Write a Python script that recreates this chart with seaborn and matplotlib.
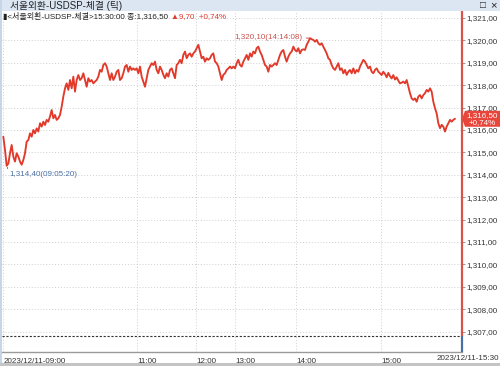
import numpy as np
import pandas as pd
import matplotlib
matplotlib.use("Agg")
import matplotlib.pyplot as plt
import seaborn as sns
from matplotlib import font_manager as fm
from matplotlib.patches import Rectangle, Polygon
from matplotlib.ticker import FuncFormatter

# ---------------- data ----------------
prices_0900 = [1315.70, 1315.11, 1314.40, 1314.50, 1314.96, 1315.33, 1314.81, 1314.59, 1314.96, 1314.81,
               1314.59, 1314.45, 1314.66, 1314.96, 1315.48, 1315.55, 1315.85, 1315.70, 1316.00, 1315.85,
               1316.07, 1315.93, 1316.30, 1316.15, 1316.37, 1316.22, 1316.45, 1316.37, 1316.60, 1316.89,
               1316.52, 1316.67, 1316.45, 1316.52, 1316.67, 1317.04, 1317.49, 1317.86, 1318.08, 1317.79,
               1318.23, 1317.86, 1318.38, 1317.71, 1318.23, 1318.45, 1318.23]
prices_1030 = [1318.31, 1318.53, 1318.23, 1317.93, 1318.31, 1318.16, 1318.23, 1318.08, 1318.16, 1318.23,
               1318.38, 1318.68, 1318.60, 1318.90, 1318.98, 1318.83, 1318.53, 1318.23, 1318.53, 1318.23,
               1318.38, 1318.60, 1318.68, 1318.23, 1318.31, 1318.53, 1318.83, 1318.90, 1318.60, 1318.83,
               1318.68, 1318.75, 1318.68, 1318.75, 1318.53, 1318.83, 1318.38, 1318.16, 1317.93, 1318.31,
               1318.68, 1318.83, 1318.98, 1318.90, 1319.05]
prices_1130 = [1318.68, 1318.53, 1318.83, 1318.68, 1318.46, 1318.31, 1318.53, 1318.38, 1318.68, 1318.75,
               1318.53, 1318.31, 1318.90, 1318.98, 1319.13, 1318.98, 1319.35, 1319.50, 1319.20, 1319.35,
               1319.42, 1319.27, 1319.42, 1319.50, 1319.65, 1319.80, 1319.50, 1319.20, 1319.27, 1319.05,
               1319.20, 1319.13, 1319.20, 1319.35, 1319.42, 1319.05, 1318.98, 1318.83, 1318.53, 1318.23,
               1318.46, 1318.53, 1318.68, 1318.75, 1318.83]
prices_1300 = [1318.75, 1318.83, 1318.75, 1318.98, 1319.13, 1318.90, 1318.83, 1319.05, 1319.20, 1319.35,
               1319.13, 1319.42, 1319.27, 1319.50, 1319.42, 1319.65, 1319.72, 1319.50, 1319.35, 1319.13,
               1318.90, 1318.83, 1318.60, 1318.90, 1318.83, 1318.90, 1318.98, 1318.90, 1319.13, 1319.35,
               1319.50, 1319.57, 1319.27, 1319.05, 1319.27, 1319.42, 1319.50, 1319.72, 1319.57, 1319.50,
               1319.65, 1319.42, 1319.57, 1319.60, 1319.57]
prices_1400 = [1319.80, 1319.94, 1320.10, 1320.05, 1320.02, 1319.94, 1320.02, 1319.87, 1319.80, 1319.87,
               1319.72, 1319.57, 1319.42, 1319.20, 1319.13, 1318.90, 1318.75, 1318.68, 1318.83, 1318.98,
               1318.68, 1318.75, 1318.53, 1318.68, 1318.46, 1318.60, 1318.68, 1318.53, 1318.75, 1318.53,
               1318.68, 1318.60, 1318.83, 1318.98, 1319.13, 1319.05, 1318.90, 1318.75, 1318.83, 1318.60,
               1318.53, 1318.68, 1318.75, 1318.60, 1318.53]
prices_1500 = [1318.45, 1318.60, 1318.50, 1318.35, 1318.55, 1318.40, 1318.30, 1318.45, 1318.25, 1318.35,
               1318.20]
prices_1510 = [1318.08, 1318.11, 1318.16, 1318.08, 1318.23, 1317.93, 1317.64, 1317.41, 1317.34, 1317.41,
               1317.26, 1317.49, 1317.56, 1317.41, 1317.56, 1317.64, 1317.79, 1317.71, 1317.86, 1317.71,
               1317.26, 1316.97, 1316.74, 1316.30, 1316.08, 1316.23, 1316.15, 1315.93, 1316.15, 1316.30,
               1316.45, 1316.37, 1316.45, 1316.50]

prev_close = 1306.80
last_price = 1316.50
change = 9.70
change_pct = 0.74
high_label = "1,320,10(14:14:08)"
low_label = "1,314,40(09:05:20)"

tick_pos = [0, 80.2, 115.6, 139, 175.6, 226.6]
tick_labels = ["2023/12/11-09:00", "11:00", "12:00", "13:00", "14:00", "15:00"]
end_label = "2023/12/11-15:30"
y_ticks = list(range(1307, 1322))

prices = prices_0900 + prices_1030 + prices_1130 + prices_1300 + prices_1400 + prices_1500 + prices_1510
df = pd.DataFrame({"seq": np.arange(len(prices)), "price": prices})

# ---------------- style ----------------
sns.set_theme(style="white")


def has(f):
    try:
        fm.findfont(fm.FontProperties(family=f), fallback_to_default=False)
        return True
    except Exception:
        return False


narrow = "Liberation Sans Narrow" if has("Liberation Sans Narrow") else "Liberation Sans"
FAM = [narrow, "Noto Sans CJK KR", "DejaVu Sans"]
plt.rcParams["font.family"] = FAM

RED = "#e2392a"
AXRED = "#d9534a"
BLUE = "#4a6fa5"
FS = 5.8

W, H = 500, 366
fig = plt.figure(figsize=(W / 100, H / 100), dpi=100)
fig.patch.set_facecolor("white")


def fx(px):
    return px / W


def fy(py):
    return 1 - py / H


ax = fig.add_axes([fx(2), fy(352), fx(462) - fx(2), fy(11) - fy(352)])
ax.set_facecolor("white")

sns.lineplot(data=df, x="seq", y="price", ax=ax, color=RED, linewidth=1.35,
             estimator=None, errorbar=None)

xmin, xmax = -0.8, 275.2
ax.set_xlim(xmin, xmax)
ax.set_ylim(1306.09, 1321.31)

# grid
ax.set_yticks(y_ticks)
ax.set_xticks(tick_pos)
ax.grid(True, linestyle=(0, (1, 2)), color="#cfcfcf", linewidth=0.7)
ax.set_xlabel("")
ax.set_ylabel("")

for s in ["left", "top", "right"]:
    ax.spines[s].set_visible(False)
ax.spines["bottom"].set_color("#9a9a9a")
ax.spines["bottom"].set_linewidth(1.0)

# right axis
ax.yaxis.tick_right()
ax.yaxis.set_major_formatter(FuncFormatter(lambda v, _: f"{v:,.2f}".replace(".", ",")))
ax.tick_params(axis="y", length=2, width=0.6, color="#888888", pad=1,
               labelsize=FS, labelcolor="#333333")
ax.tick_params(axis="x", length=3, width=0.6, color="#666666", pad=1, direction="out",
               labelsize=FS, labelcolor="#333333")
ax.set_xticklabels(tick_labels)
for lab in ax.get_xticklabels():
    lab.set_horizontalalignment("left")

ax.vlines(xmax, prev_close, 1321.31, color=AXRED, linewidth=1.6, clip_on=False, zorder=5)
ax.vlines(xmax, 1306.09, prev_close, color=BLUE, linewidth=1.6, clip_on=False, zorder=5)
ax.axhline(prev_close, color="#333333", linestyle=(0, (2, 1.5)), linewidth=0.8)

fig.text(fx(499), fy(358.5), end_label, ha="right", va="center", fontsize=FS, color="#333333")

# annotations
imax = int(np.argmax(prices))
imin = int(np.argmin(prices))
ax.annotate(high_label, xy=(imax, prices[imax]), xytext=(-7, 1), textcoords="offset pixels",
            ha="right", va="center", fontsize=FS, color="#c9534d",
            arrowprops=dict(arrowstyle="-", color="#c9534d", lw=0.7, shrinkA=0, shrinkB=1))
ax.annotate(low_label, xy=(imin, prices[imin]), xytext=(3, -9), textcoords="offset pixels",
            ha="left", va="center", fontsize=FS, color=BLUE,
            arrowprops=dict(arrowstyle="-", color=BLUE, lw=0.7, shrinkA=0, shrinkB=1,
                            connectionstyle="angle,angleA=0,angleB=90,rad=0"))

# price box
fig.canvas.draw()
disp = ax.transData.transform((xmax, last_price))
bx, by = fig.transFigure.inverted().transform(disp)
bh = 16 / H
fig.add_artist(Polygon([[bx, by], [bx + fx(3), by + bh / 2], [fx(500), by + bh / 2],
                        [fx(500), by - bh / 2], [bx + fx(3), by - bh / 2]],
                       closed=True, transform=fig.transFigure, facecolor="#e8463a",
                       edgecolor="none", zorder=6))
fig.text(fx(482), by, f"{last_price:,.2f}".replace(".", ",") + "\n" + f"+{change_pct:.2f}%".replace(".", ","),
         ha="center", va="center", fontsize=FS, color="white", linespacing=1.0, zorder=7)

# title bar
fig.add_artist(Rectangle((0, fy(11)), 1, 11 / H, transform=fig.transFigure,
                         facecolor="#dbe6f2", edgecolor="none", zorder=0))
fig.add_artist(Rectangle((0, 0), fx(2), 1, transform=fig.transFigure,
                         facecolor="#c6d6e8", edgecolor="none", zorder=0))
fig.add_artist(Rectangle((0, 0), 1, 3 / H, transform=fig.transFigure,
                         facecolor="#c4c4c4", edgecolor="none", zorder=0))
fig.text(fx(10), fy(5.5), "서울외환-USDSP-체결 (틱)", ha="left", va="center", fontsize=7, color="#222222")
fig.text(fx(483), fy(5.5), "□", ha="center", va="center", fontsize=7, color="#222222")
fig.text(fx(493), fy(5.5), "×", ha="center", va="center", fontsize=8, color="#222222")

# header line
t1 = fig.text(fx(3), fy(17), f"▮<서울외환-USDSP-체결>15:30:00 종:" + f"{last_price:,.2f}".replace(".", ","),
              ha="left", va="center", fontsize=FS, color="#222222")
fig.canvas.draw()
ext = t1.get_window_extent()
x2 = fig.transFigure.inverted().transform((ext.x1 + 3, 0))[0]
fig.text(x2, fy(17), "▲" + f"{change:.2f}".replace(".", ",") + "  " + f"+{change_pct:.2f}%".replace(".", ","),
         ha="left", va="center", fontsize=FS, color=RED)

fig.savefig("out.png", dpi=100)
